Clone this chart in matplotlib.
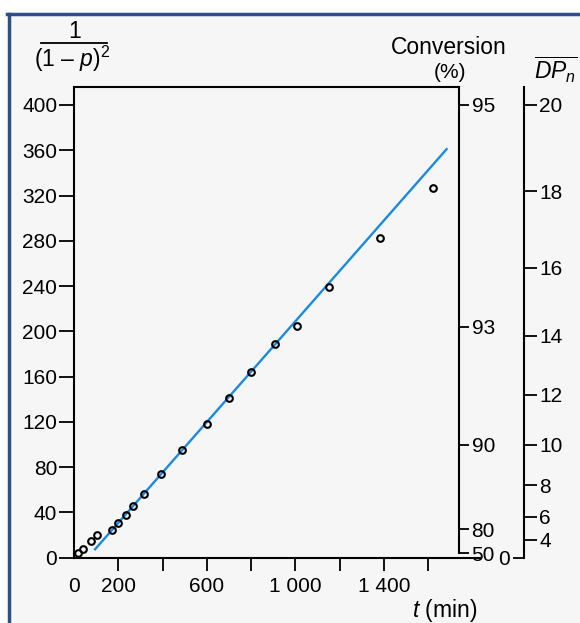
import numpy as np
import matplotlib.pyplot as plt
from matplotlib.patches import Rectangle
from matplotlib.lines import Line2D

plt.rcParams['font.family'] = ['Liberation Sans', 'DejaVu Sans']
plt.rcParams['mathtext.fontset'] = 'custom'
plt.rcParams['mathtext.rm'] = 'Liberation Sans'
plt.rcParams['mathtext.it'] = 'Liberation Sans:italic'

# data
t_min = [19, 42, 77, 105, 170, 200, 234, 268, 316, 392, 489, 599, 700, 799,
         908, 1006, 1153, 1383, 1621]
inv_sq = [4, 8, 15, 20, 24.5, 31, 38, 46, 56, 74, 95, 118, 141, 164, 189,
          204.5, 239, 282.5, 327]
fit_t = [95, 1683]
fit_y = [7.4, 361]

x_ticks = [0, 200, 400, 600, 800, 1000, 1200, 1400, 1600]
x_labels = ['0', '200', '', '600', '', '1 000', '', '1 400', '']
y_ticks = list(range(0, 401, 40))
conv_pct = [50, 80, 90, 93, 95]
dpn_vals = [4, 6, 8, 10, 12, 14, 16, 18, 20]

bg = '#f6f6f6'
frame = '#2b4f86'
fs = 15
lfs = 16.5

fig = plt.figure(figsize=(5.8, 6.23), dpi=100)
fig.patch.set_facecolor('white')
fig.patches.append(Rectangle((8.5 / 580, 0), 1, (623 - 13.5) / 623,
                             transform=fig.transFigure, facecolor=bg,
                             edgecolor='none', zorder=-10))
fig.add_artist(Line2D([8.5 / 580, 8.5 / 580], [0, 1 - 13.5 / 623],
                      transform=fig.transFigure, color=frame, lw=2.5))
fig.add_artist(Line2D([7.3 / 580, 1], [1 - 13.5 / 623, 1 - 13.5 / 623],
                      transform=fig.transFigure, color=frame, lw=2.5))

ax = fig.add_axes([74 / 580, 1 - 557.7 / 623, 385 / 580, (557.7 - 87) / 623])
ax.set_facecolor('none')
ax.set_xlim(0, 1739)
ax.set_ylim(0, 415.9)

ax.plot(fit_t, fit_y, color='#1a8ae0', lw=1.7, zorder=2)
ax.plot(t_min, inv_sq, 'o', ms=4.8, mfc='none', mec='black', mew=1.5, zorder=3)

for s in ['left', 'bottom', 'top']:
    ax.spines[s].set_linewidth(1.5)
ax.spines['right'].set_visible(False)
ax.spines['bottom'].set_bounds(0, 1834)

ax.set_xticks(x_ticks)
ax.set_xticklabels(x_labels)
ax.set_yticks(y_ticks)
ax.tick_params(axis='x', length=9, width=1.3, pad=5, labelsize=fs)
ax.tick_params(axis='y', length=11, width=1.3, pad=1, labelsize=fs)
ax.xaxis.get_major_ticks()[0].tick1line.set_visible(False)
ax.yaxis.get_major_ticks()[0].tick1line.set_visible(False)

# conversion axis
ax2 = ax.twinx()
ax2.set_ylim(ax.get_ylim())
for s in ['left', 'bottom', 'top']:
    ax2.spines[s].set_visible(False)
conv_pos = [1 / (1 - p / 100) ** 2 for p in conv_pct]
ax2.spines['right'].set_linewidth(1.5)
ax2.spines['right'].set_bounds(conv_pos[0], 415.9)
ax2.set_yticks(conv_pos)
ax2.set_yticklabels([str(p) for p in conv_pct])
ax2.tick_params(axis='y', length=7, width=1.3, pad=2, labelsize=fs)

# DPn axis
ax3 = ax.twinx()
ax3.set_ylim(ax.get_ylim())
for s in ['left', 'bottom', 'top']:
    ax3.spines[s].set_visible(False)
ax3.spines['right'].set_position(('axes', 1 + 65 / 385))
ax3.spines['right'].set_linewidth(1.5)
ax3.set_yticks([d ** 2 for d in dpn_vals])
ax3.set_yticklabels([str(d) for d in dpn_vals])
ax3.tick_params(axis='y', length=9, width=1.3, pad=2, labelsize=fs)

ax4 = ax.twinx()
ax4.set_ylim(ax.get_ylim())
for s in ['right', 'bottom', 'top', 'left']:
    ax4.spines[s].set_visible(False)
ax4.spines['left'].set_position(('axes', 1 + 65 / 385))
ax4.yaxis.tick_left()
ax4.set_yticks([0])
ax4.set_yticklabels(['0'])
ax4.tick_params(axis='y', length=8, width=1.3, pad=2, labelsize=fs)

# labels
fig.text(75 / 580, 1 - 32 / 623, '1', ha='center', va='center', fontsize=lfs)
fig.add_artist(Line2D([41 / 580, 107 / 580], [1 - 43 / 623, 1 - 43 / 623],
                      transform=fig.transFigure, color='black', lw=1.3))
fig.text(72 / 580, 1 - 59 / 623, r'(1 – $p$)$^2$', ha='center', va='center',
         fontsize=lfs)
fig.text(449 / 580, 1 - 48 / 623, 'Conversion', ha='center', va='center', fontsize=lfs)
fig.text(450 / 580, 1 - 73 / 623, '(%)', ha='center', va='center', fontsize=fs)
fig.text(556 / 580, 1 - 70 / 623, r'$\overline{DP_n}$', ha='center', va='center',
         fontsize=lfs)
fig.text(477 / 580, 1 - 611 / 623, r'$t$ (min)', ha='right', va='center', fontsize=lfs)

plt.savefig('out.png', dpi=100, facecolor=fig.get_facecolor())
